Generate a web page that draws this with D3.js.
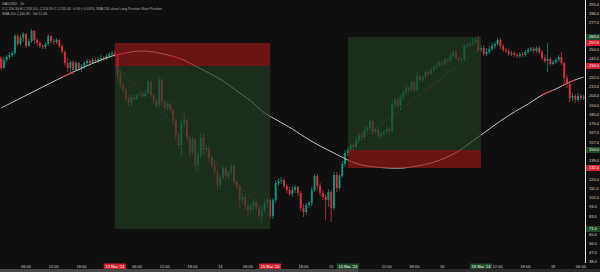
<!DOCTYPE html>
<html>
<head>
<meta charset="utf-8">
<script src="https://cdn.jsdelivr.net/npm/d3@7"></script>
<style>
  body { margin: 0; background: #0f0f0f; overflow: hidden; }
  svg { display: block; font-family: "Liberation Sans", Arial, sans-serif; }
</style>
</head>
<body>
<svg id="chart" width="600" height="272"></svg>
<script>
// candles: [open, high, low, close]
const candles = [
  [242,244,230,232],[232,243,231,240],[240,245,238,243],[243,248,241,245],[245,249,243,247],
  [247,266,245,264],[264,266,254,256],[256,265,254,262],[262,268,258,266],[266,267,252,254],
  [254,261,253,259],[259,271,257,269],[269,270,256,260],[260,262,254,257],[257,259,252,254],
  [254,256,251,253],[253,258,251,256],[256,266,254,264],[264,265,256,259],[259,261,255,258],
  [258,262,256,260],[260,261,252,254],[254,256,246,248],[248,250,234,237],[237,242,228,232],
  [232,240,226,238],[238,240,225,230],[230,239,229,237],[237,238,230,232],[232,236,228,234],
  [234,239,231,237],[237,241,234,239],[239,241,235,237],[237,242,236,240],[240,242,237,239],
  [239,243,237,241],[241,245,238,242],[242,244,239,241],[241,246,240,244],[244,248,242,246],
  [246,249,244,247],[247,250,243,245],[245,246,218,225],[225,230,212,215],[215,218,207,210],
  [210,212,199,202],[202,205,193,197],[197,205,194,203],[203,205,199,201],[201,207,200,205],
  [205,208,203,206],[206,208,202,204],[204,210,202,207],[207,220,205,218],[218,220,202,205],
  [205,207,197,200],[200,202,192,195],[195,223,193,220],[220,222,194,198],[198,201,188,192],
  [192,199,189,196],[196,198,187,190],[190,192,176,180],[180,182,160,165],[165,168,151,155],
  [155,180,143,177],[177,188,172,180],[180,182,158,162],[162,165,143,148],[148,163,145,160],
  [160,162,130,135],[135,148,128,145],[145,167,142,163],[163,167,145,150],[150,155,148,152],
  [152,155,137,142],[142,145,132,135],[135,140,125,128],[128,130,110,115],[115,125,112,122],
  [122,135,120,132],[132,134,120,124],[124,130,121,128],[128,137,125,134],[134,136,114,118],
  [118,120,110,114],[114,116,92,100],[100,107,96,103],[103,105,90,94],[94,97,82,90],
  [90,97,87,94],[94,100,90,97],[97,99,89,92],[92,94,78,84],[84,93,76,90],
  [90,101,87,97],[97,103,92,100],[100,102,81,84],[84,102,81,100],[100,120,97,117],
  [117,122,114,119],[119,123,116,120],[120,122,112,114],[114,116,107,110],[110,113,104,106],
  [106,114,103,110],[110,115,107,113],[113,114,104,107],[107,109,89,92],[92,96,83,88],
  [88,97,85,95],[95,99,92,97],[97,113,94,110],[110,126,108,124],[124,126,110,114],
  [114,117,104,107],[107,110,100,103],[103,106,80,100],[100,111,93,108],[108,110,78,92],
  [92,128,90,125],[125,128,108,112],[112,126,110,124],[124,139,122,136],[136,150,134,147],
  [147,153,144,150],[150,157,148,155],[155,157,150,153],[153,164,151,160],[160,168,157,165],
  [165,168,160,163],[163,173,160,170],[170,174,167,172],[172,181,169,179],[179,180,165,168],
  [168,172,166,170],[170,172,161,164],[164,169,162,166],[166,170,164,168],[168,174,166,171],
  [171,173,165,169],[169,200,167,196],[196,202,192,200],[200,203,192,194],[194,205,190,203],
  [203,210,200,208],[208,215,205,212],[212,214,206,210],[210,220,208,218],[218,219,208,210],
  [210,228,208,224],[224,226,218,220],[220,225,218,223],[223,230,222,228],[228,231,224,226],
  [226,232,225,230],[230,235,228,233],[233,237,231,235],[235,239,233,237],[237,240,234,236],
  [236,242,235,240],[240,242,237,239],[239,247,238,244],[244,250,242,248],[248,250,240,242],
  [242,244,238,240],[240,243,238,241],[241,256,239,254],[254,257,252,255],[255,258,253,256],
  [256,262,254,258],[258,263,256,260],[260,264,247,250],[250,255,248,252],[252,255,244,246],
  [246,252,244,248],[248,254,246,251],[251,257,249,254],[254,258,251,256],[256,262,254,260],
  [260,262,251,254],[254,256,248,250],[250,252,247,249],[249,251,244,246],[246,249,244,247],
  [247,249,243,245],[245,247,242,244],[244,248,242,246],[246,248,243,245],[245,250,243,248],
  [248,252,246,250],[250,253,248,251],[251,253,247,249],[249,254,247,252],[252,254,246,248],
  [248,250,240,242],[242,245,237,239],[239,257,228,241],[241,243,234,236],[236,240,235,238],
  [238,242,236,240],[240,245,238,243],[243,248,235,237],[237,238,215,222],[222,225,212,216],
  [216,218,198,202],[202,207,199,204],[204,206,197,200],[200,207,198,204],[204,206,200,202],
  [202,205,200,203]
];

// moving average read at every 5th bar
const maIndex = [0,10,20,30,40,45,50,55,60,65,70,75,80,85,90,95,100,105,110,115,120,125,130,135,140,145,150,155,160,165,170,175,180,185,190,195,200,205,210];
const maValues = [192,206,220,233,244,247,249,248,245,241,234,227,219,209,199,187,179,171,162,154,147,140,135,133,132,132,134,137,142,149,159,169,179,188,196,205,211,218,223];
const maRedSegments = [[22,26],[41,46],[61,65],[195,199],[202,207]];

// position tools
const positions = [
  {type: "short", start: 41, end: 97, entry: 234, stop: 257, target: 71},
  {type: "long", start: 125, end: 173, entry: 150, stop: 132, target: 263}
];

const priceTicks = [295,286,277,268,259,250,241,231,222,213,204,194,185,176,167,157,148,139,130,120,111,102,93,83,74,65,56,47,38];
const timeTickIndex = [9,19,29,39,49,59,69,79,89,99,109,119,129,139,149,159,169,179,189,199,209];
const timeTickLabels = ["06:00","12:00","18:00","13","06:00","12:00","18:00","14","06:00","12:00","18:00","15","06:00","12:00","18:00","16","06:00","12:00","18:00","19","06:00"];
const dateLabels = {41: "13 Mar '24", 97: "15 Mar '24", 125: "15 Mar '24", 173: "18 Mar '24"};
const headerLines = [
  "XAUUSD · 1h",
  "O 2,156.30  H 2,158.10  L 2,153.95  C 2,155.40  −0.90 (−0.04%)   SMA 200 close   Long Position   Short Position",
  "SMA 200  2,160.85  ·  Vol 12.4K"
];

const svg = d3.select("#chart");
const width = +svg.attr("width");
const height = +svg.attr("height");
const up = "#0b9479", down = "#d1303f";

svg.append("rect").attr("width", width).attr("height", height).attr("fill", "#0f0f0f");

const x = d3.scaleBand().domain(d3.range(candles.length)).range([0.1, 584.6]).paddingInner(0.3);
const cx = i => x(i) + x.bandwidth() / 2;
const y = d3.scaleLinear().domain([300, 28]).range([0, 272]);

// candles
const cg = svg.append("g");
candles.forEach((d, i) => {
  const [o, h, l, c] = d;
  const col = c >= o ? up : down;
  cg.append("line").attr("x1", cx(i)).attr("x2", cx(i))
    .attr("y1", y(h)).attr("y2", y(l)).attr("stroke", col).attr("stroke-width", 0.8);
  cg.append("rect").attr("x", x(i)).attr("width", x.bandwidth())
    .attr("y", y(Math.max(o, c))).attr("height", Math.max(1, Math.abs(y(o) - y(c))))
    .attr("fill", col);
});

// moving average
const maPts = maIndex.map((i, k) => ({i: i, v: maValues[k]}));
const maLine = d3.line().x(d => cx(d.i)).y(d => y(d.v)).curve(d3.curveCatmullRom);
svg.append("path").attr("d", maLine(maPts)).attr("fill", "none")
  .attr("stroke", "#c4c4c4").attr("stroke-width", 1);

const defs = svg.append("defs");
maRedSegments.forEach((s, k) => {
  defs.append("clipPath").attr("id", "seg" + k).append("rect")
    .attr("x", cx(s[0])).attr("width", cx(s[1]) - cx(s[0])).attr("y", 0).attr("height", height);
  svg.append("path").attr("d", maLine(maPts)).attr("fill", "none")
    .attr("clip-path", "url(#seg" + k + ")")
    .attr("stroke", "#e0323c").attr("stroke-width", 1);
});

// position boxes
positions.forEach(p => {
  const x0 = cx(p.start), x1 = cx(p.end);
  svg.append("rect").attr("x", x0).attr("width", x1 - x0)
    .attr("y", y(Math.max(p.entry, p.target))).attr("height", Math.abs(y(p.entry) - y(p.target)))
    .attr("fill", "rgb(34,62,35)").attr("fill-opacity", 0.66);
  svg.append("rect").attr("x", x0).attr("width", x1 - x0)
    .attr("y", y(Math.max(p.entry, p.stop))).attr("height", Math.abs(y(p.entry) - y(p.stop)))
    .attr("fill", "rgb(154,23,26)").attr("fill-opacity", 0.66);
  svg.append("line").attr("x1", x0).attr("y1", y(p.entry))
    .attr("x2", x1).attr("y2", y(candles[p.end][3]))
    .attr("stroke", "#9a9a9a").attr("stroke-opacity", 0.45)
    .attr("stroke-width", 0.7).attr("stroke-dasharray", "1,2");
});

// header text
headerLines.forEach((t, k) => {
  svg.append("text").attr("x", 2).attr("y", 4.5 + k * 5.3)
    .attr("font-size", k === 0 ? 3.6 : 3.4).attr("fill", "#a9abb2").text(t);
});

// price axis
const highlights = [];
positions.forEach(p => {
  const g = p.type === "long";
  highlights.push({v: p.target, col: "#1f4a27"});
  highlights.push({v: p.entry, col: g ? "#1f4a27" : "#d21f32"});
  highlights.push({v: p.stop, col: "#d21f32"});
});
priceTicks.filter(v => highlights.every(h => Math.abs(y(h.v) - y(v)) > 5)).forEach(v => {
  svg.append("text").attr("x", 589).attr("y", y(v)).attr("dy", "0.35em")
    .attr("font-size", 4).attr("fill", "#d6d6d6").text(v.toFixed(1));
});
highlights.forEach(h => {
  svg.append("rect").attr("x", 586).attr("y", y(h.v) - 3).attr("width", 14).attr("height", 6)
    .attr("fill", h.col);
  svg.append("text").attr("x", 589).attr("y", y(h.v)).attr("dy", "0.35em")
    .attr("font-size", 4).attr("fill", "#ffffff").text(h.v.toFixed(1));
});
svg.append("line").attr("x1", 585.5).attr("x2", 585.5).attr("y1", 0).attr("y2", 263)
  .attr("stroke", "#e8e8e8").attr("stroke-width", 1);

// time axis
const dateIdx = Object.keys(dateLabels).map(Number);
timeTickIndex.forEach((i, k) => {
  if (dateIdx.some(j => Math.abs(cx(j) - cx(i)) < 16)) return;
  svg.append("text").attr("x", cx(i)).attr("y", 267.5).attr("text-anchor", "middle")
    .attr("font-size", 4).attr("fill", "#cfcfcf").text(timeTickLabels[k]);
});
positions.forEach(p => {
  [p.start, p.end].forEach(i => {
    svg.append("rect").attr("x", cx(i) - 11).attr("y", 263.5).attr("width", 22).attr("height", 5.5)
      .attr("fill", p.type === "long" ? "#1f4a27" : "#d21f32");
    svg.append("text").attr("x", cx(i)).attr("y", 267.5).attr("text-anchor", "middle")
      .attr("font-size", 4).attr("fill", "#ffffff").text(dateLabels[i]);
  });
});

// scrollbar strip
svg.append("rect").attr("x", 0).attr("y", 269).attr("width", 358).attr("height", 3).attr("fill", "#474747");
svg.append("rect").attr("x", 358).attr("y", 269).attr("width", 242).attr("height", 3).attr("fill", "#2c2c2c");
</script>
</body>
</html>
